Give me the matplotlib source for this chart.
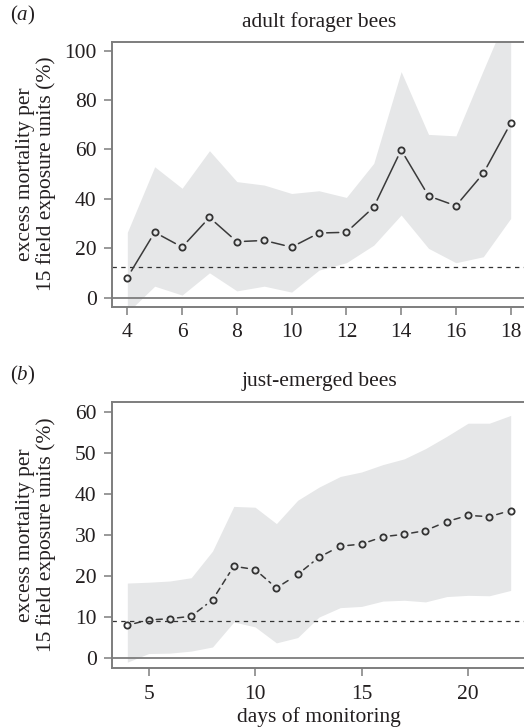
import matplotlib
matplotlib.use("Agg")
import matplotlib.pyplot as plt

plt.rcParams['font.family'] = ['Liberation Serif', 'DejaVu Serif']
plt.rcParams['mathtext.fontset'] = 'custom'
plt.rcParams['mathtext.rm'] = 'Liberation Serif'
plt.rcParams['mathtext.it'] = 'Liberation Serif:italic'

# panel (a): adult forager bees
days_a = [4, 5, 6, 7, 8, 9, 10, 11, 12, 13, 14, 15, 16, 17, 18]
mort_a = [8.2, 26.5, 20.5, 32.5, 22.7, 23.2, 20.5, 26.2, 26.5, 36.7, 59.8, 41.2, 37.2, 50.3, 70.6]
upper_a = [26.5, 53.0, 44.3, 59.5, 47.0, 45.6, 42.2, 43.3, 40.6, 54.4, 91.5, 66.1, 65.5, 92.0, 118.0]
lower_a = [-6.0, 4.7, 1.1, 10.1, 2.8, 4.7, 2.3, 11.2, 14.2, 21.3, 33.5, 20.0, 14.2, 16.6, 32.1]
ref_a = 12.6

# panel (b): just-emerged bees
days_b = [4, 5, 6, 7, 8, 9, 10, 11, 12, 13, 14, 15, 16, 17, 18, 19, 20, 21, 22]
mort_b = [8.0, 9.3, 9.6, 10.2, 14.2, 22.4, 21.6, 17.1, 20.4, 24.6, 27.3, 27.8, 29.6, 30.2, 31.1, 33.3, 34.8, 34.5, 36.0]
upper_b = [18.3, 18.5, 18.8, 19.6, 26.1, 37.0, 36.8, 32.8, 38.5, 41.7, 44.3, 45.4, 47.2, 48.6, 51.1, 54.1, 57.3, 57.3, 59.2]
lower_b = [-1.0, 1.1, 1.2, 1.7, 2.7, 8.8, 7.6, 3.7, 5.0, 10.0, 12.3, 12.6, 13.9, 14.1, 13.7, 15.0, 15.3, 15.2, 16.5]
ref_b = 9.0

txt = '#231f20'
frame = '#7d7d7d'
band = '#e6e7e8'
W, H = 524, 728

fig = plt.figure(figsize=(W / 100, H / 100), dpi=100)
ax1 = fig.add_axes([112 / W, 1 - 306.7 / H, 414 / W, 265 / H])
ax2 = fig.add_axes([112 / W, 1 - 668.3 / H, 414 / W, 266 / H])


def draw_panel(ax, days, mort, upper, lower, ref, ls):
    ax.fill_between(days, lower, upper, color=band, lw=0, zorder=1)
    ax.axhline(0, color=frame, lw=1.3, zorder=2, clip_on=False)
    ax.axhline(ref, color='#333333', lw=0.9, ls=(0, (3.5, 3.5)), zorder=2)
    # R style type="b": segments with gaps around the points
    for i in range(len(days) - 1):
        ax.annotate('', xy=(days[i + 1], mort[i + 1]), xytext=(days[i], mort[i]),
                    arrowprops=dict(arrowstyle='-', color='#3a3a3a', lw=1.1,
                                    ls=ls, shrinkA=5.5, shrinkB=5.5), zorder=3)
    ax.plot(days, mort, ls='none', marker='o', ms=4.5, mfc='none', mec='#333333',
            mew=1.3, zorder=4)
    for s in ax.spines.values():
        s.set_color(frame)
        s.set_linewidth(1.4)
    ax.tick_params(colors=frame, labelcolor=txt, labelsize=15.5, length=6, width=1.1)
    ax.tick_params(axis='x', pad=6)
    ax.tick_params(axis='y', pad=5)


draw_panel(ax1, days_a, mort_a, upper_a, lower_a, ref_a, '-')
ax1.set_xlim(3.44, 18.56)
ax1.set_ylim(-3.6, 103.6)
ax1.set_xticks([4, 6, 8, 10, 12, 14, 16, 18])
ax1.set_yticks([0, 20, 40, 60, 80, 100])

draw_panel(ax2, days_b, mort_b, upper_b, lower_b, ref_b, (0, (4, 3)))
ax2.set_xlim(3.28, 22.72)
ax2.set_ylim(-2.5, 62.4)
ax2.set_xticks([5, 10, 15, 20])
ax2.set_yticks([0, 10, 20, 30, 40, 50, 60])

ylab = 'excess mortality per\n15 field exposure units (%)'
fig.text(36 / W, 1 - 174 / H, ylab, rotation=90, ha='center', va='center',
         multialignment='center', fontsize=15.5, color=txt, linespacing=1.05)
fig.text(36 / W, 1 - 535 / H, ylab, rotation=90, ha='center', va='center',
         multialignment='center', fontsize=15.5, color=txt, linespacing=1.05)

fig.text(319 / W, 1 - 21.7 / H, 'adult forager bees', ha='center', va='center',
         fontsize=15.5, color=txt)
fig.text(319 / W, 1 - 381.7 / H, 'just-emerged bees', ha='center', va='center',
         fontsize=15.5, color=txt)
fig.text(10 / W, 1 - 15 / H, r'($\it{a}$)', ha='left', va='center', fontsize=15, color=txt)
fig.text(10 / W, 1 - 375 / H, r'($\it{b}$)', ha='left', va='center', fontsize=15, color=txt)
fig.text(319 / W, 1 - 716.7 / H, 'days of monitoring', ha='center', va='center',
         fontsize=15.5, color=txt)

fig.savefig('out.png', dpi=100)
